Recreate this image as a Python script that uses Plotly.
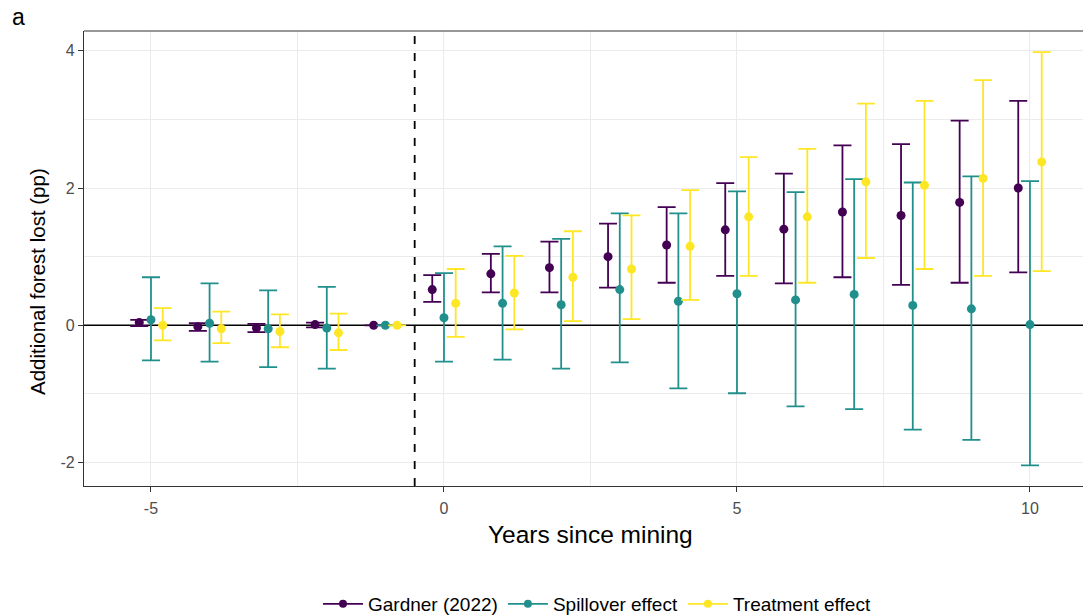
import plotly.graph_objects as go

# Event-study estimates: years relative to first mining activity
years = [-5, -4, -3, -2, -1, 0, 1, 2, 3, 4, 5, 6, 7, 8, 9, 10]

gardner_est = [0.04, -0.02, -0.04, 0.01, 0.0, 0.52, 0.75, 0.84, 1.00, 1.17, 1.39, 1.40, 1.65, 1.60, 1.79, 2.00]
gardner_lo = [-0.01, -0.08, -0.10, -0.03, 0.0, 0.34, 0.48, 0.48, 0.55, 0.62, 0.72, 0.61, 0.70, 0.59, 0.62, 0.77]
gardner_hi = [0.08, 0.03, 0.02, 0.04, 0.0, 0.73, 1.04, 1.22, 1.48, 1.72, 2.07, 2.21, 2.62, 2.64, 2.98, 3.27]

spill_est = [0.08, 0.03, -0.05, -0.04, 0.0, 0.11, 0.32, 0.30, 0.52, 0.35, 0.46, 0.37, 0.45, 0.29, 0.24, 0.01]
spill_lo = [-0.51, -0.53, -0.61, -0.63, 0.0, -0.53, -0.50, -0.63, -0.54, -0.92, -0.99, -1.18, -1.22, -1.52, -1.67, -2.04]
spill_hi = [0.70, 0.61, 0.51, 0.56, 0.0, 0.76, 1.15, 1.26, 1.63, 1.63, 1.95, 1.94, 2.13, 2.08, 2.17, 2.10]

treat_est = [0.00, -0.05, -0.09, -0.11, 0.0, 0.32, 0.47, 0.70, 0.82, 1.15, 1.58, 1.58, 2.09, 2.04, 2.14, 2.38]
treat_lo = [-0.22, -0.26, -0.32, -0.36, 0.0, -0.17, -0.06, 0.06, 0.09, 0.37, 0.72, 0.62, 0.98, 0.82, 0.72, 0.79]
treat_hi = [0.25, 0.20, 0.16, 0.17, 0.0, 0.82, 1.01, 1.37, 1.60, 1.97, 2.45, 2.57, 3.23, 3.27, 3.57, 3.98]

series = [
    ("Gardner (2022)", gardner_est, gardner_lo, gardner_hi, "#440154", -0.2),
    ("Spillover effect", spill_est, spill_lo, spill_hi, "#21908C", 0.0),
    ("Treatment effect", treat_est, treat_lo, treat_hi, "#FDE725", 0.2),
]

W, H = 1083, 615
ML, MR, MT, MB = 84, 0, 31, 129
plot_w = W - ML - MR
plot_h = H - MT - MB
x_range = [-6.143, 10.905]
y_range = [-2.341, 4.287]


def px_to_paper_x(px):
    return (px - ML) / plot_w


def px_to_paper_y(py):
    return (H - MB - py) / plot_h


fig = go.Figure()

# horizontal reference line at zero effect, under the estimates
fig.add_trace(go.Scatter(
    x=x_range, y=[0, 0], mode="lines", showlegend=False, hoverinfo="skip",
    line=dict(color="black", width=1.6),
))

for name, est, lo, hi, color, dodge in series:
    xs = [y + dodge for y in years]
    fig.add_trace(go.Scatter(
        x=xs, y=est, mode="markers", showlegend=False, name=name,
        marker=dict(color=color, size=9),
        error_y=dict(
            type="data", symmetric=False,
            array=[h - e for h, e in zip(hi, est)],
            arrayminus=[e - l for e, l in zip(est, lo)],
            color=color, thickness=1.8, width=9,
        ),
    ))

# legend keys
for name, est, lo, hi, color, dodge in series:
    fig.add_trace(go.Scatter(
        x=[None], y=[None], mode="lines+markers", name=name,
        line=dict(color=color, width=1.8), marker=dict(color=color, size=8),
    ))

grid = "#EBEBEB"
axis_col = "#333333"
tick_font = dict(family="Liberation Sans, Arial, sans-serif", size=16, color="#4D4D4D")

fig.update_layout(
    width=W, height=H,
    margin=dict(l=ML, r=MR, t=MT, b=MB, pad=0, autoexpand=False),
    paper_bgcolor="white", plot_bgcolor="white",
    font=dict(family="Liberation Sans, Arial, sans-serif", color="black"),
    showlegend=True,
    legend=dict(
        orientation="h", x=px_to_paper_x(597), xanchor="center",
        y=px_to_paper_y(604), yanchor="middle",
        font=dict(size=19, color="black"), itemwidth=40,
        bgcolor="rgba(0,0,0,0)",
    ),
    xaxis=dict(
        range=x_range, tickvals=[-5, 0, 5, 10], ticktext=["-5", "0", "5", "10"],
        showgrid=True, gridcolor=grid, gridwidth=1.1, zeroline=False,
        minor=dict(tickvals=[-2.5, 2.5, 7.5], showgrid=True, gridcolor=grid, gridwidth=0.55),
        showline=True, linecolor=axis_col, linewidth=1.1,
        ticks="outside", ticklen=5, tickwidth=1.1, tickcolor=axis_col,
        tickfont=tick_font, ticklabelstandoff=3, fixedrange=True,
    ),
    yaxis=dict(
        range=y_range, tickvals=[-2, 0, 2, 4], ticktext=["-2", "0", "2", "4"],
        showgrid=True, gridcolor=grid, gridwidth=1.1, zeroline=False,
        minor=dict(tickvals=[-1, 1, 3], showgrid=True, gridcolor=grid, gridwidth=0.55),
        showline=True, linecolor=axis_col, linewidth=1.1,
        ticks="outside", ticklen=5, tickwidth=1.1, tickcolor=axis_col,
        tickfont=tick_font, fixedrange=True,
    ),
    shapes=[
        # top panel border
        dict(type="line", xref="paper", yref="paper", x0=0, x1=1, y0=1, y1=1,
             line=dict(color=axis_col, width=1.1)),
        # treatment onset
        dict(type="line", xref="x", yref="paper", x0=-0.5, x1=-0.5, y0=0, y1=1,
             line=dict(color="black", width=1.8, dash="8px,9px")),
    ],
    annotations=[
        dict(text="Years since mining", xref="paper", yref="paper",
             x=px_to_paper_x(590), y=px_to_paper_y(534), showarrow=False,
             xanchor="center", yanchor="middle", font=dict(size=24.5, color="black")),
        dict(text="Additional forest lost (pp)", xref="paper", yref="paper",
             x=px_to_paper_x(37), y=px_to_paper_y(282), showarrow=False, textangle=-90,
             xanchor="center", yanchor="middle", font=dict(size=20.5, color="black")),
        dict(text="a", xref="paper", yref="paper",
             x=px_to_paper_x(10), y=px_to_paper_y(2), showarrow=False,
             xanchor="left", yanchor="top", font=dict(size=23, color="black")),
    ],
)

fig.write_html("out.html")
